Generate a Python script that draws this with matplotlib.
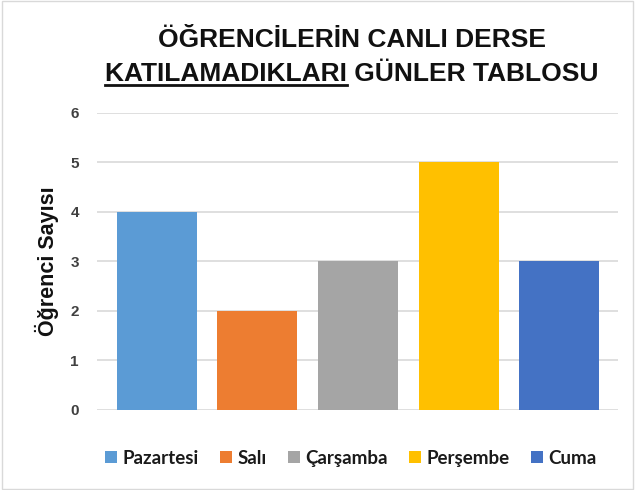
import matplotlib
matplotlib.use("Agg")
import matplotlib.pyplot as plt
from matplotlib.patches import Rectangle

# veriler
gunler = ["Pazartesi", "Salı", "Çarşamba", "Perşembe", "Cuma"]
ogrenci = [4, 2, 3, 5, 3]
renkler = ["#5B9BD5", "#ED7D31", "#A5A5A5", "#FFC000", "#4472C4"]
y_ticks = [0, 1, 2, 3, 4, 5, 6]

plt.rcParams["font.family"] = ["Liberation Sans", "DejaVu Sans"]

fig = plt.figure(figsize=(6.35, 4.9), dpi=100)
ax = fig.add_axes([0.1528, 0.1633, 0.82, 0.6061])

x = list(range(len(gunler)))
for i in x:
    ax.bar(i, ogrenci[i], width=0.794, color=renkler[i], label=gunler[i], zorder=3)

ax.set_xlim(-0.591, 4.58)
ax.set_ylim(0, 6)
ax.set_yticks(y_ticks)
ax.set_xticks([])
ax.grid(axis="y", color="#D9D9D9", linewidth=1.2, zorder=0)
for s in ax.spines.values():
    s.set_visible(False)
ax.tick_params(axis="y", length=0, pad=13, labelsize=11, labelcolor="#404040")
for t in ax.get_yticklabels():
    t.set_fontweight("bold")

ax.set_ylabel("Öğrenci Sayısı", fontsize=15.5, fontweight="bold", color="#111111", labelpad=8)

# baslik
title_kw = dict(fontsize=19, fontweight="bold", color="#111111", ha="center", va="baseline")
fig.text(352 / 635, 1 - 47 / 490, "ÖĞRENCİLERİN CANLI DERSE", **title_kw)
line2 = fig.text(352 / 635, 1 - 81 / 490, "KATILAMADIKLARI GÜNLER TABLOSU", **title_kw)

fig.canvas.draw()
r = fig.canvas.get_renderer()
bb = line2.get_window_extent(r)
tmp = fig.text(0, 0, "KATILAMADIKLARI", fontsize=19, fontweight="bold")
wb = tmp.get_window_extent(r)
tmp.remove()
y_line = (490 - 81 - 4) / 490
fig.add_artist(plt.Line2D([bb.x0 / 635, (bb.x0 + wb.width) / 635], [y_line, y_line],
                          transform=fig.transFigure, color="#111111", linewidth=2))

leg = ax.legend(loc="center", bbox_to_anchor=(351 / 635, 1 - 458 / 490),
                bbox_transform=fig.transFigure, ncol=5, frameon=False,
                handlelength=0.62, handleheight=0.62, handletextpad=0.3,
                columnspacing=1.15, prop={"family": ["Lato", "DejaVu Sans"], "weight": "bold", "size": 13.5})
for t in leg.get_texts():
    t.set_color("#1a1a1a")

fig.add_artist(Rectangle((0.003, 0.003), 0.994, 0.994, transform=fig.transFigure,
                         fill=False, edgecolor="#D9D9D9", linewidth=1))

fig.savefig("out.png", dpi=100, facecolor="white")
